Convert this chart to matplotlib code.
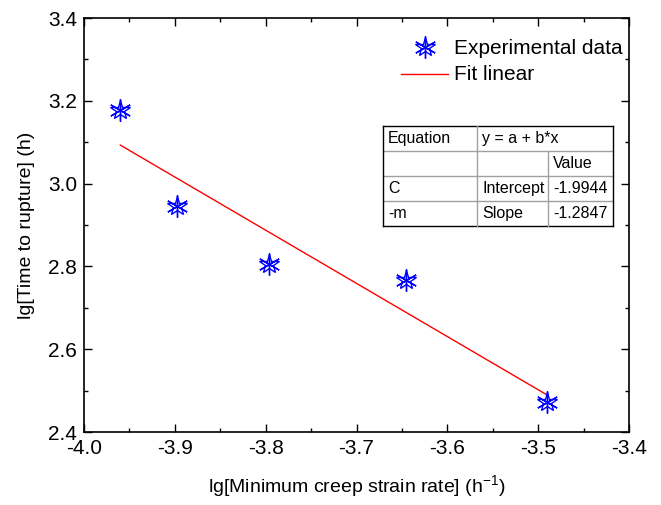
import matplotlib
matplotlib.use("Agg")
import matplotlib.pyplot as plt
import numpy as np

plt.rcParams['font.family'] = ['Liberation Sans', 'DejaVu Sans']

x_data = [-3.960, -3.898, -3.796, -3.646, -3.490]
y_data = [3.178, 2.946, 2.807, 2.768, 2.473]
intercept = -1.9944
slope = -1.2847
x_ticks = [-4.0, -3.9, -3.8, -3.7, -3.6, -3.5, -3.4]
y_ticks = [2.4, 2.6, 2.8, 3.0, 3.2, 3.4]
table_rows = [["Equation", "y = a + b*x", ""],
              ["", "", "Value"],
              ["C", "Intercept", "-1.9944"],
              ["-m", "Slope", "-1.2847"]]

W, H = 661, 505
fig = plt.figure(figsize=(W/100, H/100), dpi=100)
L, R, T, B = 84, 629, 18, 432
ax = fig.add_axes([L/W, 1-B/H, (R-L)/W, (B-T)/H])

xf = np.array([min(x_data), max(x_data)])
ax.plot(xf, intercept + slope*xf, color='#ff0000', lw=1.0, zorder=2)

mk = dict(color='#0000ff', ls='none', zorder=3)
ax.plot(x_data, y_data, marker='*', ms=15, mfc='none', mec='#0000ff', mew=1.0, **mk)
ax.plot(x_data, y_data, marker=(6, 2, 0), ms=16, mec='#0000ff', mew=1.0, **mk)

ax.set_xlim(-4.0, -3.4)
ax.set_ylim(2.4, 3.4)
ax.set_xticks(x_ticks)
ax.set_yticks(y_ticks)
ax.set_xticklabels([f"{v:.1f}" for v in x_ticks])
ax.set_yticklabels([f"{v:.1f}" for v in y_ticks])
ax.set_xticks(np.arange(-3.95, -3.4, 0.1), minor=True)
ax.set_yticks(np.arange(2.5, 3.4, 0.2), minor=True)
ax.tick_params(which='both', direction='in', top=True, right=True, labelsize=15, width=1.0, pad=5)
ax.tick_params(which='major', length=6)
ax.tick_params(which='minor', length=3)
for s in ax.spines.values():
    s.set_linewidth(1.2)

ax.set_xlabel("lg[Minimum creep strain rate] (h$^{\\mathregular{-1}}$)", fontsize=14, labelpad=11)
ax.set_ylabel("lg[Time to rupture] (h)", fontsize=14, labelpad=9)

def ac(px, py):
    return ((px - L)/(R - L), (B - py)/(B - T))

# legend
lx, ly = ac(425, 47)
ax.plot([lx], [ly], transform=ax.transAxes, marker='*', ms=15, mfc='none', mec='#0000ff', mew=1.0, ls='none', clip_on=False)
ax.plot([lx], [ly], transform=ax.transAxes, marker=(6, 2, 0), ms=16, mec='#0000ff', mew=1.0, ls='none', clip_on=False)
tx, ty = ac(454, 48)
ax.text(tx, ty, "Experimental data", transform=ax.transAxes, fontsize=15, va='center', ha='left')
a1 = ac(401, 74); a2 = ac(448, 74)
ax.plot([a1[0], a2[0]], [a1[1], a2[1]], transform=ax.transAxes, color='#ff0000', lw=1.0)
tx, ty = ac(454, 74)
ax.text(tx, ty, "Fit linear", transform=ax.transAxes, fontsize=15, va='center', ha='left')

# table
cols = [383, 477, 548, 613]
rows = [126, 151, 176, 201, 226]
gray = '#a0a0a0'
for i, yy in enumerate(rows):
    p1 = ac(cols[0], yy); p2 = ac(cols[-1], yy)
    ax.plot([p1[0], p2[0]], [p1[1], p2[1]], transform=ax.transAxes,
            color='black' if i in (0, len(rows)-1) else gray, lw=1.0)
for j, xx in enumerate(cols):
    y_top = rows[1] if j == 2 else rows[0]
    p1 = ac(xx, y_top); p2 = ac(xx, rows[-1])
    ax.plot([p1[0], p2[0]], [p1[1], p2[1]], transform=ax.transAxes,
            color='black' if j in (0, len(cols)-1) else gray, lw=1.0)
for i, row in enumerate(table_rows):
    for j, txt in enumerate(row):
        if not txt:
            continue
        px = cols[j] + 5
        py = (rows[i] + rows[i+1]) / 2
        p = ac(px, py)
        ax.text(p[0], p[1], txt, transform=ax.transAxes, fontsize=11.5, va='center', ha='left')

fig.savefig("out.png", dpi=100)
